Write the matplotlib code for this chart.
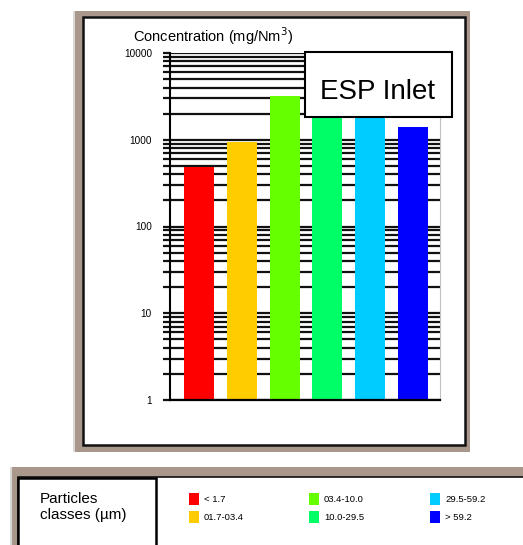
import matplotlib
matplotlib.use("Agg")
from matplotlib import pyplot as plt
from matplotlib.patches import Rectangle
from matplotlib.ticker import FixedLocator, LogLocator, NullFormatter

# clases de particulas y concentraciones
clases = ["< 1.7", "01.7-03.4", "03.4-10.0", "10.0-29.5", "29.5-59.2", "> 59.2"]
concentracion = [485, 945, 3200, 2500, 2300, 1400]
colores = ["#ff0000", "#ffcc00", "#66ff00", "#00ff66", "#00ccff", "#0000ff"]
marcas_y = [1, 10, 100, 1000, 10000]
etiquetas_y = ["1", "10", "100", "1000", "10000"]

W, H = 523, 545
cafe = "#a8978a"
narrow = ["Liberation Sans Narrow", "Liberation Sans", "DejaVu Sans"]
arial = ["Liberation Sans", "DejaVu Sans"]

fig = plt.figure(figsize=(W / 100, H / 100), dpi=100)

# capa de fondo en pixeles
bg = fig.add_axes([0, 0, 1, 1], zorder=0)
bg.set_xlim(0, W); bg.set_ylim(H, 0); bg.axis("off")

# marco del panel superior
bg.add_patch(Rectangle((73, 11), 2, 441, color="#d8d8d8", lw=0))
bg.add_patch(Rectangle((75, 11), 395, 441, color=cafe, lw=0))
bg.add_patch(Rectangle((83, 17), 382, 428, facecolor="white", edgecolor="#111111", lw=1.8))

# panel inferior (leyenda)
bg.add_patch(Rectangle((10, 467), 2, 78, color="#d8d8d8", lw=0))
bg.add_patch(Rectangle((12, 467), 511, 78, color=cafe, lw=0))
bg.add_patch(Rectangle((18, 477), 510, 80, facecolor="white", edgecolor="#111111", lw=1.2))
bg.add_patch(Rectangle((18, 478), 138, 80, facecolor="white", edgecolor="black", lw=1.8))
bg.text(40, 507, "Particles\nclasses (µm)", fontsize=11, family=arial,
        va="center", ha="left", linespacing=1.15)

# entradas de la leyenda
col_x = [189, 309, 430]
fila_y = [499, 517]
for i, (c, col) in enumerate(zip(clases, colores)):
    x0 = col_x[i // 2]
    y0 = fila_y[i % 2]
    bg.add_patch(Rectangle((x0, y0 - 6), 10, 12, color=col, lw=0))
    bg.text(x0 + 15, y0, c, fontsize=6.8, family=narrow, va="center", ha="left")

# titulo del eje
bg.text(133, 36, "Concentration (mg/Nm$^3$)", fontsize=10.5, family=arial,
        va="center", ha="left")

# grafico principal
ax = fig.add_axes([170 / W, (H - 400) / H, 270 / W, 347 / H], zorder=1)
ax.patch.set_alpha(0)
x = range(len(clases))
ax.bar(x, concentracion, width=0.7, color=colores, zorder=2)
ax.set_yscale("log")
ax.set_ylim(1, 10000)
ax.set_xlim(-0.68, 5.63)
ax.set_xticks([])
ax.yaxis.set_major_locator(FixedLocator(marcas_y))
ax.set_yticklabels(etiquetas_y, family=narrow, fontsize=7.2)
ax.yaxis.set_minor_locator(LogLocator(base=10, subs=range(2, 10)))
ax.yaxis.set_minor_formatter(NullFormatter())
ax.tick_params(axis="y", which="both", direction="out", length=5, width=1.6,
               color="#111111", pad=8)
ax.set_axisbelow(True)
ax.yaxis.grid(True, which="both", color="#111111", lw=1.6)
ax.spines["top"].set_visible(False)
ax.spines["right"].set_color("#c0c0c0")
ax.spines["left"].set_linewidth(1.5)
ax.spines["bottom"].set_linewidth(1.6)

# caja "ESP Inlet" encima del grafico
fg = fig.add_axes([0, 0, 1, 1], zorder=3)
fg.set_xlim(0, W); fg.set_ylim(H, 0); fg.axis("off")
fg.add_patch(Rectangle((305, 52), 147, 65, facecolor="white", edgecolor="black", lw=1.5))
fg.text(378, 92, "ESP Inlet", fontsize=20, family=arial, va="center", ha="center")

fig.savefig("out.png", dpi=100)
